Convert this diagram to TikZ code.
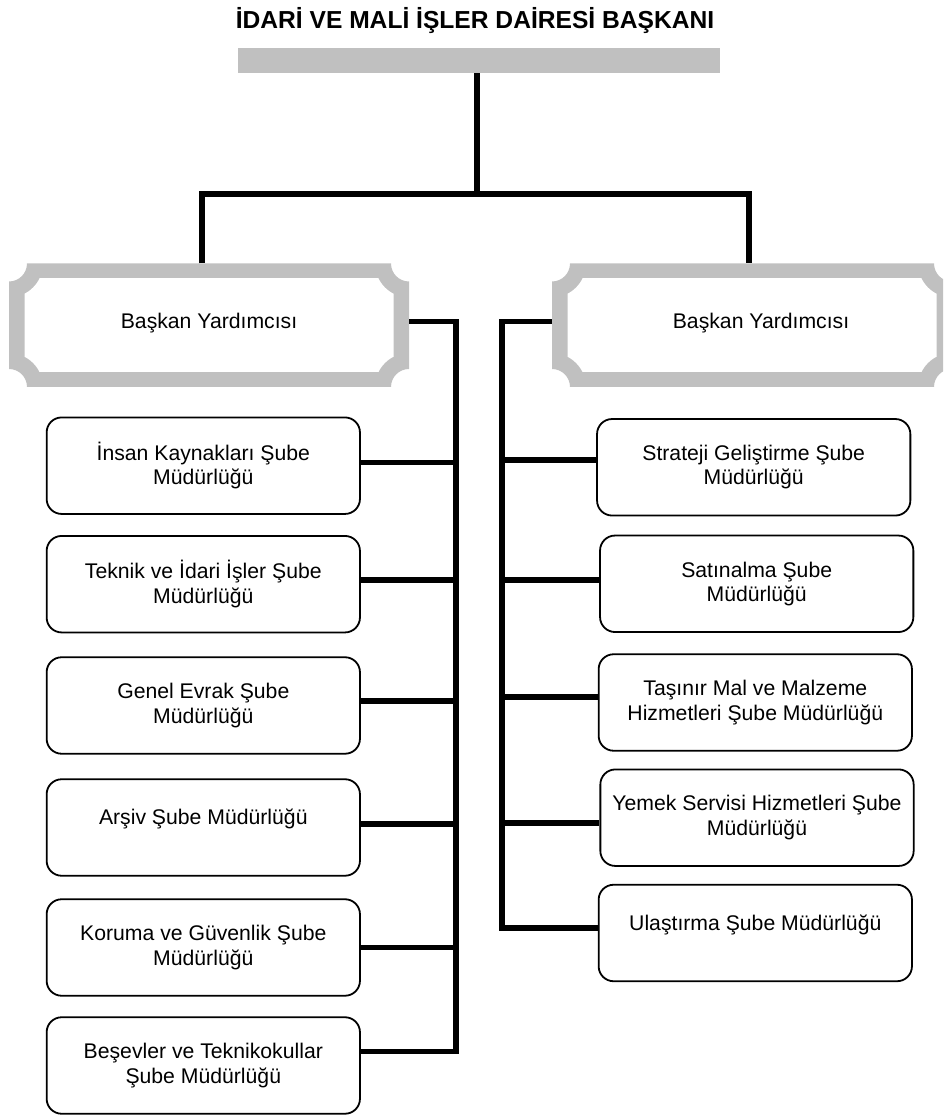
\documentclass[tikz,border=0pt]{standalone}
\usepackage{fontspec}
\setmainfont{Liberation Sans}
\usetikzlibrary{calc}
\definecolor{plaquegray}{HTML}{C0C0C0}
% plaque outline with concave (inward) quarter-circle corners: x1 y1 x2 y2 r
\newcommand\cornerpath[5]{({#1+#5},{#2}) -- ({#3-#5},{#2}) arc[start angle=180,end angle=90,radius=#5pt] -- ({#3},{#4-#5}) arc[start angle=270,end angle=180,radius=#5pt] -- ({#1+#5},{#4}) arc[start angle=0,end angle=-90,radius=#5pt] -- ({#1},{#2+#5}) arc[start angle=90,end angle=0,radius=#5pt] -- cycle}
\newcommand\liftline[2]{\raisebox{#1}[\height][\depth]{#2}}
\begin{document}
\begin{tikzpicture}[x=1pt,y=1pt,
  conn/.style={line width=5.7pt, line join=miter},
  orgbox/.style={draw, line width=1.8pt, rounded corners=15pt, fill=white,
    minimum width=313.3pt, minimum height=96.5pt, inner sep=0pt, align=center,
    font=\fontsize{21.2}{24.4}\selectfont},
  vpnode/.style={minimum width=400pt, minimum height=123.5pt, inner sep=0pt,
    font=\fontsize{21.2}{24.4}\selectfont},
  topbar/.style={fill=plaquegray, minimum width=482.3pt, minimum height=25pt, inner sep=0pt},
  titletext/.style={font=\fontsize{24.6}{28}\selectfont\bfseries}]
\useasboundingbox (0,0) rectangle (943,1115);
\clip (0,0) rectangle (943,1115);

% title and bar
\node[titletext, anchor=base] (title) at (475,1086) {İDARİ VE MALİ İŞLER DAİRESİ BAŞKANI};
\node[topbar] (bar) at (478.85,1054.2) {};

% plaques (grey frames with concave corners)
\fill[plaquegray] \cornerpath{9}{728}{409}{851.5}{18};
\begin{scope}
  \clip (24.5,743.5) rectangle (393.5,836);
  \fill[white] \cornerpath{9}{728}{409}{851.5}{34};
\end{scope}
\fill[plaquegray] \cornerpath{552}{728}{952}{851.5}{18};
\begin{scope}
  \clip (567.5,743.5) rectangle (936.5,836);
  \fill[white] \cornerpath{552}{728}{952}{851.5}{34};
\end{scope}
\node[vpnode] (lvp) at (209,789.75) {\liftline{2.5pt}{Başkan Yardımcısı}};
\node[vpnode] (rvp) at (752,789.75) {\hspace*{18pt}\liftline{2.5pt}{Başkan Yardımcısı}};

% left column boxes
\node[orgbox] (b1) at (203.3,649.3) {İnsan Kaynakları Şube\\Müdürlüğü};
\node[orgbox] (b2) at (203.3,530.8) {Teknik ve İdari İşler Şube\\Müdürlüğü};
\node[orgbox] (b3) at (203.3,409.5) {Genel Evrak Şube\\Müdürlüğü};
\node[orgbox] (b4) at (203.3,287.5) {\liftline{8.5pt}{Arşiv Şube Müdürlüğü}};
\node[orgbox] (b5) at (203.3,167.5) {Koruma ve Güvenlik Şube\\Müdürlüğü};
\node[orgbox] (b6) at (203.3,49.5) {Beşevler ve Teknikokullar\\Şube Müdürlüğü};

% right column boxes
\node[orgbox] (r1) at (753.7,647.7) {Strateji Geliştirme Şube\\Müdürlüğü};
\node[orgbox] (r2) at (756.7,531.2) {Satınalma Şube\\Müdürlüğü};
\node[orgbox] (r3) at (755.3,412.5) {Taşınır Mal ve Malzeme\\Hizmetleri Şube Müdürlüğü};
\node[orgbox] (r4) at (757,297.3) {Yemek Servisi Hizmetleri Şube\\Müdürlüğü};
\node[orgbox] (r5) at (755.3,182) {\liftline{8pt}{Ulaştırma Şube Müdürlüğü}};

% junction points
\coordinate (hub) at (476.7,921);
\coordinate (tl) at (202,921);
\coordinate (tr) at (749,921);
\coordinate (ltop) at (455.7,793.5);
\coordinate (lbot) at (455.7,63.5);
\coordinate (rtop) at (502,793.5);
\coordinate (rbot) at (502,186.7);

% top connectors
\draw[conn] (bar.south -| hub) -- (hub);
\draw[conn] (lvp.north -| tl) -- (tl) -- (tr) -- (rvp.north -| tr);

% left bus
\draw[conn] (ltop -| lvp.east) -- (ltop) -- (lbot) -- (lbot -| b6.east);
\coordinate (c1) at ([yshift=3.2pt]b1.east);
\coordinate (c2) at ([yshift=4.5pt]b2.east);
\coordinate (c3) at ([yshift=4.2pt]b3.east);
\coordinate (c4) at ([yshift=3.3pt]b4.east);
\coordinate (c5) at (b5.east);
\draw[conn] (c1) -- (c1 -| ltop);
\draw[conn] (c2) -- (c2 -| ltop);
\draw[conn] (c3) -- (c3 -| ltop);
\draw[conn] (c4) -- (c4 -| ltop);
\draw[conn] (c5) -- (c5 -| ltop);

% right bus
\draw[conn] (rtop -| rvp.west) -- (rtop) -- (rbot) -- (rbot -| r5.west);
\coordinate (d1) at ([yshift=7pt]r1.west);
\coordinate (d2) at ([yshift=4.1pt]r2.west);
\coordinate (d3) at ([yshift=5.5pt]r3.west);
\coordinate (d4) at ([yshift=-5pt]r4.west);
\draw[conn] (d1) -- (d1 -| rtop);
\draw[conn] (d2) -- (d2 -| rtop);
\draw[conn] (d3) -- (d3 -| rtop);
\draw[conn] (d4) -- (d4 -| rtop);
\end{tikzpicture}
\end{document}
